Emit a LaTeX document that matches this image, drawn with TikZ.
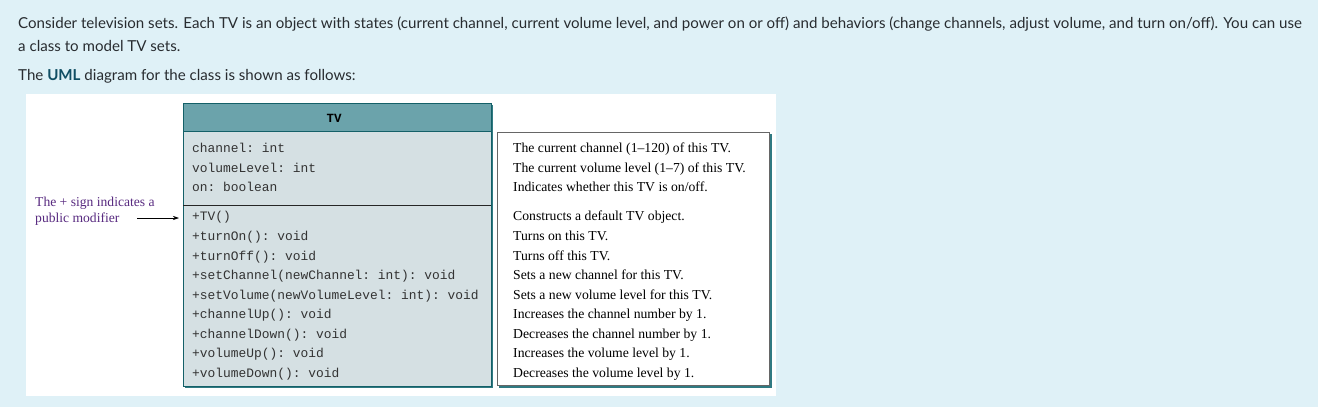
\documentclass[tikz,border=0pt]{standalone}
\usepackage{fontspec}
\setmainfont{Liberation Serif}
\setmonofont{Liberation Mono}
\newfontfamily\pagefont{Lato}
\usepackage{xcolor}
\usepackage{tikz}
\usetikzlibrary{positioning, arrows.meta}
\definecolor{pagebg}{RGB}{223,241,247}
\definecolor{pagetext}{RGB}{40,44,48}
\definecolor{umlterm}{RGB}{16,78,100}
\definecolor{headfill}{RGB}{107,163,171}
\definecolor{bodyfill}{RGB}{213,224,227}
\definecolor{edgeteal}{RGB}{20,96,104}
\definecolor{shadeteal}{RGB}{48,122,130}
\definecolor{annote}{RGB}{88,42,128}

\begin{document}
\begin{tikzpicture}[x=1pt, y=-1pt, every node/.style={inner sep=0pt},
  page/.style={font=\pagefont\fontsize{15.1}{18}\selectfont, color=pagetext, anchor=base west},
  member/.style={font=\ttfamily\fontsize{12.9}{15}\selectfont, color=black!80, anchor=base west},
  desc/.style={font=\fontsize{13.7}{16}\selectfont, anchor=base west},
  ann/.style={font=\fontsize{13.6}{16}\selectfont, color=annote, align=left, anchor=west},
  shade/.style={draw=shadeteal, line width=2.2pt},
  arrow/.style={-{Stealth[length=6pt, width=4pt]}, black, semithick}]
\useasboundingbox (0,0) rectangle (1318,407);
\fill[pagebg] (0,0) rectangle (1318,407);

% question text
\node[page] (q1) at (18,28) {Consider television sets. Each TV is an object with states (current channel, current volume level, and power on or off) and behaviors (change channels, adjust volume, and turn on/off). You can use};
\node[page] (q2) at (18,51) {a class to model TV sets.};
\node[page] (q3) at (18,80) {The \textcolor{umlterm}{\bfseries UML} diagram for the class is shown as follows:};

% white panel
\fill[white] (26,94) rectangle (776,396);

% class box
\draw[shade] (492,105) -- (492,387) -- (185,387);
\fill[bodyfill] (183,103) rectangle (491,386);
\fill[headfill] (183,103) rectangle (491,131);
\draw[edgeteal, semithick] (183,103) rectangle (491,386);
\draw[edgeteal, semithick] (183,131) -- (491,131);
\draw[black!85, semithick] (183,205) -- (491,205);
\node[font=\ttfamily\bfseries\fontsize{12.5}{14}\selectfont, anchor=base] (title) at (334,122) {TV};

\node[member] (a1) at (192,152) {channel: int};
\node[member] (a2) at (192,172) {volumeLevel: int};
\node[member] (a3) at (192,191) {on: boolean};

\node[member] (m1) at (192,220) {+TV()};
\node[member] (m2) at (192,240) {+turnOn(): void};
\node[member] (m3) at (192,260) {+turnOff(): void};
\node[member] (m4) at (192,279) {+setChannel(newChannel: int): void};
\node[member] (m5) at (192,299) {+setVolume(newVolumeLevel: int): void};
\node[member] (m6) at (192,318) {+channelUp(): void};
\node[member] (m7) at (192,338) {+channelDown(): void};
\node[member] (m8) at (192,357) {+volumeUp(): void};
\node[member] (m9) at (192,377) {+volumeDown(): void};

% description box
\draw[shade] (771,134) -- (771,387) -- (499,387);
\draw[black!60, fill=white] (497,132) rectangle (769,385);

\node[desc] (d1) at (513,152) {The current channel (1--120) of this TV.};
\node[desc] (d2) at (513,172) {The current volume level (1--7) of this TV.};
\node[desc] (d3) at (513,191) {Indicates whether this TV is on/off.};
\node[desc] (d4) at (513,220) {Constructs a default TV object.};
\node[desc] (d5) at (513,240) {Turns on this TV.};
\node[desc] (d6) at (513,260) {Turns off this TV.};
\node[desc] (d7) at (513,279) {Sets a new channel for this TV.};
\node[desc] (d8) at (513,299) {Sets a new volume level for this TV.};
\node[desc] (d9) at (513,318) {Increases the channel number by 1.};
\node[desc] (d10) at (513,338) {Decreases the channel number by 1.};
\node[desc] (d11) at (513,357) {Increases the volume level by 1.};
\node[desc] (d12) at (513,377) {Decreases the volume level by 1.};

% note on the + sign
\node[ann] (note) at (35,211) {The + sign indicates a\\public modifier};
\coordinate (notetail) at (137,218);
\draw[arrow] (notetail) -- (notetail -| m1.west) [shorten >=13pt];
\end{tikzpicture}
\end{document}
